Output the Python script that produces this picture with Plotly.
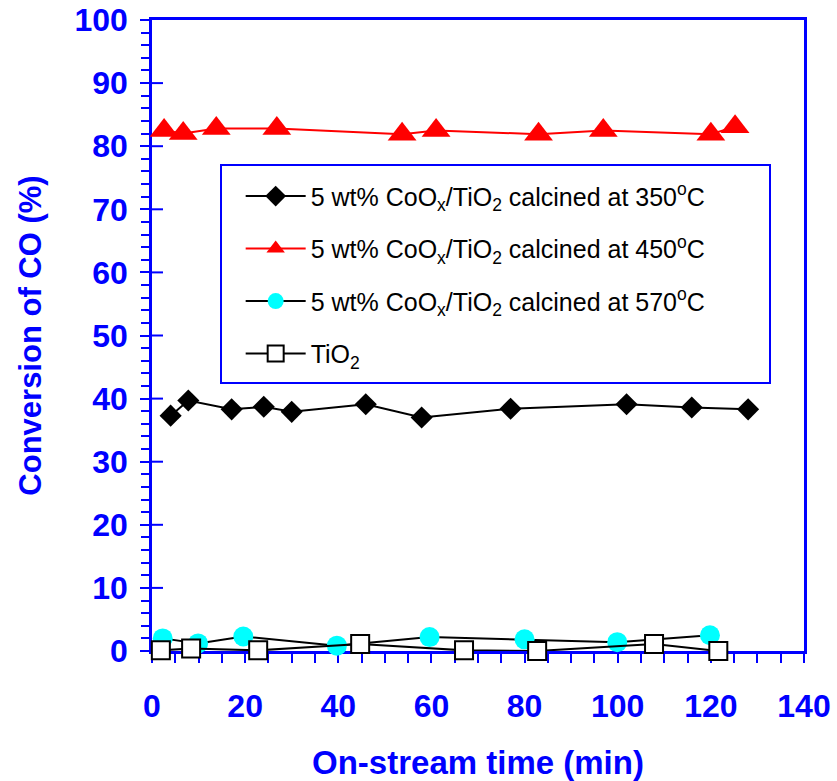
import plotly.graph_objects as go

# On-stream time (min) and CO conversion (%) for each catalyst
t_350 = [4.0, 7.8, 17.1, 24.0, 30.0, 45.9, 57.9, 77.0, 101.9, 115.9, 128.0]
co_350 = [37.3, 39.7, 38.3, 38.7, 37.9, 39.1, 37.0, 38.4, 39.1, 38.6, 38.3]

t_450 = [2.6, 6.7, 13.8, 26.8, 53.7, 61.0, 83.0, 96.9, 120.0, 125.2]
co_450 = [82.5, 82.0, 82.8, 82.8, 81.9, 82.5, 81.9, 82.5, 81.9, 83.1]

t_570 = [2.3, 9.9, 19.6, 39.7, 59.6, 80.0, 99.9, 119.8]
co_570 = [2.0, 1.2, 2.3, 0.85, 2.2, 1.85, 1.4, 2.5]

t_tio2 = [1.9, 8.4, 22.8, 44.7, 67.0, 82.7, 107.8, 121.6]
co_tio2 = [0.1, 0.4, 0.1, 1.1, 0.1, 0.0, 1.1, 0.0]

y_major = [10, 20, 30, 40, 50, 60, 70, 80, 90]

names = [
    "5 wt% CoO<sub>x</sub>/TiO<sub>2</sub> calcined at 350<sup>o</sup>C",
    "5 wt% CoO<sub>x</sub>/TiO<sub>2</sub> calcined at 450<sup>o</sup>C",
    "5 wt% CoO<sub>x</sub>/TiO<sub>2</sub> calcined at 570<sup>o</sup>C",
    "TiO<sub>2</sub>",
]

BLUE = "#0000FF"
FONT = "Arial, Liberation Sans, sans-serif"

fig = go.Figure()

fig.add_trace(go.Scatter(
    x=t_350, y=co_350, name=names[0], legendgroup="a", mode="lines+markers",
    line=dict(color="black", width=2),
    marker=dict(symbol="diamond", size=17, color="black", line=dict(width=0)),
    cliponaxis=False,
))
fig.add_trace(go.Scatter(
    x=t_450, y=co_450, name=names[1], legendgroup="b", mode="lines+markers",
    line=dict(color="#FF0000", width=2),
    marker=dict(symbol="triangle-up", size=25, color="#FF0000", line=dict(width=0)),
    cliponaxis=False,
))
fig.add_trace(go.Scatter(
    x=t_570, y=co_570, name=names[2], legendgroup="c", mode="lines+markers",
    line=dict(color="black", width=2),
    marker=dict(symbol="circle", size=20, color="#00FFFF", line=dict(width=0)),
    cliponaxis=False,
))
fig.add_trace(go.Scatter(
    x=t_tio2, y=co_tio2, name=names[3], legendgroup="d", mode="lines+markers",
    line=dict(color="black", width=2),
    marker=dict(symbol="square", size=18, color="white", line=dict(color="black", width=2)),
    cliponaxis=False,
))

tickfont = dict(family=FONT, size=32, color=BLUE)

fig.update_layout(
    width=837, height=781,
    margin=dict(l=152, r=33, t=20, b=130),
    paper_bgcolor="white", plot_bgcolor="white",
    showlegend=True,
    legend=dict(
        x=0.136, y=0.757, xanchor="left", yanchor="top",
        font=dict(family=FONT, size=25, color="black"),
        bgcolor="rgba(0,0,0,0)", borderwidth=0,
        tracegroupgap=17, itemwidth=60,
    ),
    xaxis=dict(
        range=[0, 140], dtick=20, tick0=0,
        ticks="outside", ticklen=9, tickwidth=2, tickcolor=BLUE,
        minor=dict(dtick=5, ticks="outside", ticklen=9, tickwidth=2, tickcolor=BLUE),
        showline=True, linecolor=BLUE, linewidth=2.5, mirror=True,
        showgrid=False, zeroline=False, layer="below traces", automargin=False,
        tickfont=tickfont, ticklabelstandoff=16,
        tickprefix="<b>", ticksuffix="</b>",
        title=dict(text="<b>On-stream time (min)</b>",
                   font=dict(family=FONT, size=33, color=BLUE), standoff=29),
    ),
    yaxis=dict(
        range=[0, 100], dtick=10, tick0=0,
        ticks="outside", ticklen=9, tickwidth=2, tickcolor=BLUE,
        minor=dict(dtick=2, ticks="outside", ticklen=8, tickwidth=2, tickcolor=BLUE),
        showline=True, linecolor=BLUE, linewidth=2.5, mirror=True,
        showgrid=False, zeroline=False, layer="below traces", automargin=False,
        tickfont=tickfont, ticklabelstandoff=6,
        tickprefix="<b>", ticksuffix="</b>",
        title=dict(text="<b>Conversion of CO (%)</b>",
                   font=dict(family=FONT, size=31, color=BLUE), standoff=24),
    ),
)

# inward half of the major y ticks
for v in y_major:
    fig.add_shape(
        type="line", xref="paper", yref="y",
        x0=0, x1=11 / 652, y0=v, y1=v,
        line=dict(color=BLUE, width=2), layer="below",
    )

# legend frame
fig.add_shape(
    type="rect", xref="paper", yref="paper",
    x0=(221 - 152) / 652, x1=(770 - 152) / 652,
    y0=(651 - 383) / 631, y1=(651 - 165) / 631,
    line=dict(color=BLUE, width=2), fillcolor="rgba(0,0,0,0)", layer="above",
)

fig.write_html("out.html")
